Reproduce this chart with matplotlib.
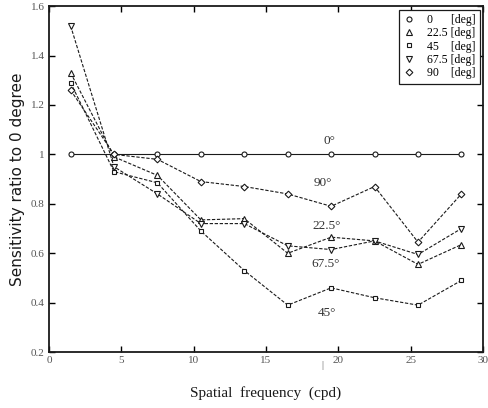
import matplotlib
matplotlib.use("Agg")
import matplotlib.pyplot as plt

# spatial frequency (cpd)
freq = [1.5, 4.5, 7.5, 10.5, 13.5, 16.5, 19.5, 22.5, 25.5, 28.5]

# sensitivity ratio to 0 degree, per orientation
deg0 = [1.0, 1.0, 1.0, 1.0, 1.0, 1.0, 1.0, 1.0, 1.0, 1.0]
deg22 = [1.33, 0.99, 0.915, 0.735, 0.74, 0.60, 0.665, 0.65, 0.555, 0.635]
deg45 = [1.29, 0.93, 0.885, 0.69, 0.53, 0.39, 0.46, 0.42, 0.39, 0.49]
deg67 = [1.52, 0.95, 0.84, 0.72, 0.72, 0.63, 0.615, 0.65, 0.595, 0.70]
deg90 = [1.26, 1.0, 0.98, 0.89, 0.87, 0.84, 0.79, 0.87, 0.645, 0.84]

labels = ["0      [deg]", "22.5 [deg]", "45    [deg]", "67.5 [deg]", "90    [deg]"]
curve_names = ["0\u00b0", "22.5\u00b0", "45\u00b0", "67.5\u00b0", "90\u00b0"]
name_pos = [(19.4, 1.055), (19.2, 0.71), (19.2, 0.36), (19.1, 0.555), (18.9, 0.885)]

SERIF = "Liberation Serif"
INK = "#1a1a1a"

fig = plt.figure(figsize=(4.89, 4.08), dpi=100)
ax = fig.add_axes([0.100, 0.137, 0.888, 0.848])

series = [deg0, deg22, deg45, deg67, deg90]
markers = ["o", "^", "s", "v", "D"]
sizes = [3.6, 4.0, 3.4, 4.0, 3.4]
for vals, mk, ms, lbl in zip(series, markers, sizes, labels):
    ls = "-" if lbl.startswith("0 ") else (0, (3, 1.5))
    ax.plot(freq, vals, linestyle=ls, color=INK, linewidth=0.8,
            marker=mk, markersize=ms, markerfacecolor="white",
            markeredgecolor=INK, markeredgewidth=0.8, label=lbl)

for txt, (x, y) in zip(curve_names, name_pos):
    ax.text(x, y, txt, family=SERIF, fontsize=9.5, color="#333333",
            ha="center", va="center")

ax.set_xlim(0, 30)
ax.set_ylim(0.2, 1.6)
ax.set_xticks([0, 5, 10, 15, 20, 25, 30])
ax.set_yticks([0.2, 0.4, 0.6, 0.8, 1.0, 1.2, 1.4, 1.6])
ax.set_xticklabels(["0", "5", "10", "15", "20", "25", "30"])
ax.set_yticklabels(["0.2", "0.4", "0.6", "0.8", "1", "1.2", "1.4", "1.6"])
ax.tick_params(direction="in", top=True, right=True, length=4, width=1,
               labelsize=8, labelcolor="#555555", pad=3)
for lab in ax.get_xticklabels() + ax.get_yticklabels():
    lab.set_family(SERIF)
for sp in ax.spines.values():
    sp.set_linewidth(1.3)
    sp.set_color(INK)

ax.set_ylabel("Sensitivity ratio to 0 degree", family="DejaVu Sans",
              fontsize=11, color=INK, labelpad=4)
ax.set_xlabel("Spatial  frequency  (cpd)", family=SERIF,
              fontsize=11, color=INK, labelpad=15)
fig.text(0.659, 0.105, "|", family=SERIF, fontsize=7, color="#555555",
         ha="center", va="center")

leg = ax.legend(loc="upper right", prop={"family": SERIF, "size": 8.5},
                numpoints=1, handlelength=1.0, handletextpad=1.0,
                labelspacing=0.12, borderpad=0.35, borderaxespad=0.3,
                fancybox=False, framealpha=1, edgecolor=INK)
leg.get_frame().set_linewidth(0.9)
for h in leg.legend_handles:
    h.set_linestyle("None")

fig.savefig("out.png", dpi=100)
